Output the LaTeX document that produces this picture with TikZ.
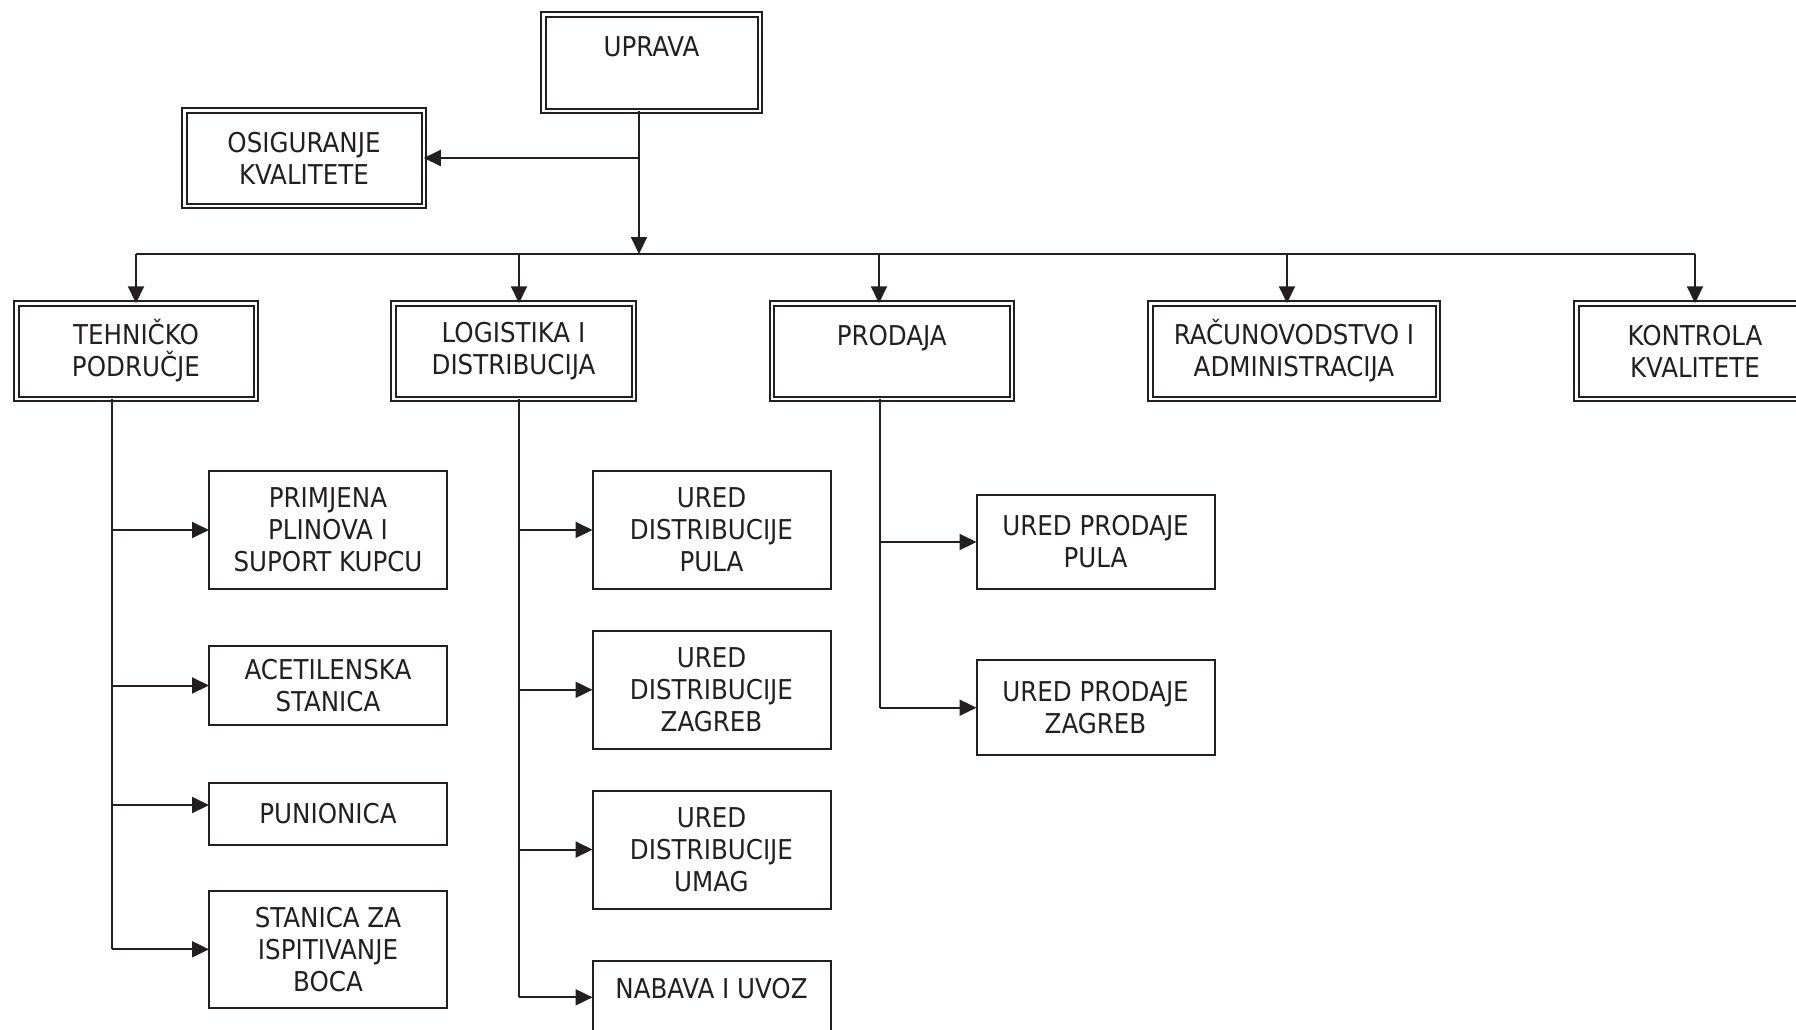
\documentclass[tikz,border=0pt]{standalone}
\usepackage{fontspec}
\setmainfont{DejaVu Sans Condensed}
\usetikzlibrary{arrows.meta}

\begin{document}
\begin{tikzpicture}[x=1pt,y=-1pt,
    line/.style={draw=linecol,line width=2pt},
    arr/.style={line,-{Triangle[length=17pt,width=16pt]}},
    dbox/.style={draw=linecol,double,double distance=2.5pt,line width=2pt,
        minimum height=95.5pt,align=center,inner sep=0pt,outer sep=0pt,
        text=linecol,font=\fontsize{27.3pt}{32pt}\selectfont},
    sbox/.style={draw=linecol,line width=2pt,minimum width=238pt,
        align=center,inner sep=0pt,outer sep=0pt,
        text=linecol,font=\fontsize{27.3pt}{32pt}\selectfont}]
    \definecolor{linecol}{RGB}{35,31,32}

    \useasboundingbox (0,0) rectangle (1796,1029);
    \clip (0,0) rectangle (1796,1029);

    % top
    \node[dbox,minimum width=216.5pt,minimum height=96.5pt] (upr) at (651.5,62.5) {UPRAVA\\~};
    \node[dbox,minimum width=239.5pt] (osig) at (304,158) {OSIGURANJE\\KVALITETE};

    % departments
    \node[dbox,minimum width=239.5pt] (teh) at (136,351) {TEHNIČKO\\PODRUČJE};
    \node[dbox,minimum width=240.5pt] (log) at (513.5,351) {LOGISTIKA I\\DISTRIBUCIJA};
    \node[dbox,minimum width=240pt] (pro) at (891.75,351) {PRODAJA\\~};
    \node[dbox,minimum width=287.5pt] (rac) at (1294,351) {RAČUNOVODSTVO I\\ADMINISTRACIJA};
    \node[dbox,minimum width=237.5pt] (kon) at (1695,351) {KONTROLA\\KVALITETE};

    % units
    \node[sbox,minimum height=118pt] (t1) at (328,530) {PRIMJENA\\PLINOVA I\\SUPORT KUPCU};
    \node[sbox,minimum height=79pt] (t2) at (328,685.5) {ACETILENSKA\\STANICA};
    \node[sbox,minimum height=62pt] (t3) at (328,814) {PUNIONICA};
    \node[sbox,minimum height=117pt] (t4) at (328,949.3) {STANICA ZA\\ISPITIVANJE\\BOCA};

    \node[sbox,minimum height=118pt] (l1) at (711.5,530) {URED\\DISTRIBUCIJE\\PULA};
    \node[sbox,minimum height=118pt] (l2) at (711.5,689.8) {URED\\DISTRIBUCIJE\\ZAGREB};
    \node[sbox,minimum height=118pt] (l3) at (711.5,849.5) {URED\\DISTRIBUCIJE\\UMAG};
    \node[sbox,minimum height=118pt] (l4) at (711.5,1020.3) {NABAVA I UVOZ\\~\\~};

    \node[sbox,minimum height=94pt] (p1) at (1095.5,542) {URED PRODAJE\\PULA};
    \node[sbox,minimum height=95pt] (p2) at (1095.5,707.7) {URED PRODAJE\\ZAGREB};

    % upper connectors
    \coordinate (bus) at (639,254);
    \draw[arr] (upr.south -| bus) -- (bus);
    \draw[arr] (osig.east -| bus) -- (osig.east);

    \coordinate (d1) at (136,254);
    \coordinate (d2) at (519,254);
    \coordinate (d3) at (879,254);
    \coordinate (d4) at (1287,254);
    \coordinate (d5) at (1695,254);
    \draw[line] (d1) -- (d5);
    \foreach \d/\n in {d1/teh,d2/log,d3/pro,d4/rac,d5/kon}
        \draw[arr] (\d) -- (\d |- \n.north);

    % lower connectors
    \coordinate (tt) at (112,0);
    \coordinate (lt) at (519,0);
    \coordinate (pt) at (880,0);
    \coordinate (t3in) at ([yshift=9pt]t3.west);
    \coordinate (l4in) at ([yshift=23pt]l4.west);

    \draw[line] (teh.south -| tt) -- (t4.west -| tt);
    \foreach \c in {t1.west,t2.west,t3in,t4.west}
        \draw[arr] (\c -| tt) -- (\c);

    \draw[line] (log.south -| lt) -- (l4in -| lt);
    \foreach \c in {l1.west,l2.west,l3.west,l4in}
        \draw[arr] (\c -| lt) -- (\c);

    \draw[line] (pro.south -| pt) -- (p2.west -| pt);
    \foreach \c in {p1.west,p2.west}
        \draw[arr] (\c -| pt) -- (\c);
\end{tikzpicture}
\end{document}
